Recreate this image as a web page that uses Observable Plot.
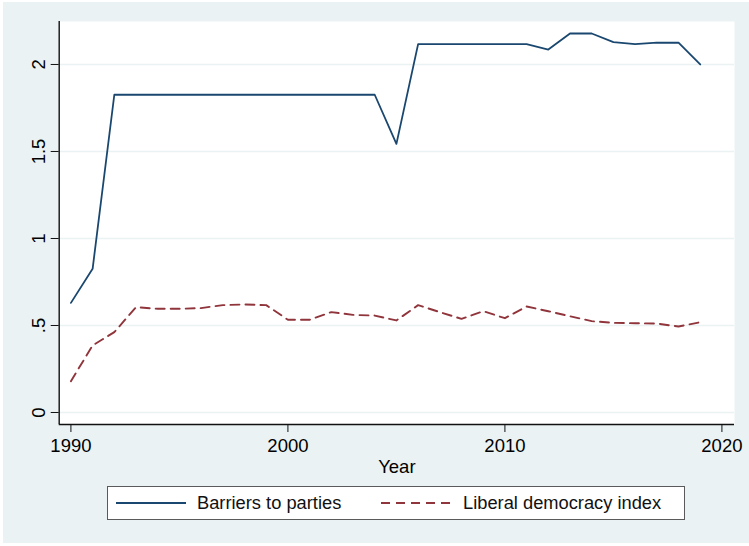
<!DOCTYPE html>
<html>
<head>
<meta charset="utf-8">
<script src="https://cdn.jsdelivr.net/npm/d3@7"></script>
<script src="https://cdn.jsdelivr.net/npm/@observablehq/plot@0.6"></script>
<style>
  html, body { margin: 0; padding: 0; background: #ffffff; }
  body { width: 749px; height: 546px; position: relative; overflow: hidden; font-family: "Liberation Sans", Arial, Helvetica, sans-serif; }
  #bg { position: absolute; left: 3px; top: 2px; width: 746px; height: 541px; background: #eaf2f3; }
  #fig { position: absolute; left: 0; top: 0; width: 749px; }
  #fig svg { display: block; background: transparent; }
  #legend { position: absolute; left: 107px; top: 486px; width: 578px; height: 34px; box-sizing: border-box;
            border: 1px solid #5a5a5a; background: #ffffff; }
  #legend .item { position: absolute; top: 0; height: 32px; line-height: 32px; font-size: 18.3px; color: #111; white-space: nowrap; }
  #legend svg { position: absolute; top: 0; }
</style>
</head>
<body>
<div id="bg"></div>
<div id="fig"></div>
<script>
// ---- Data ----
const years = [1990,1991,1992,1993,1994,1995,1996,1997,1998,1999,2000,2001,2002,2003,2004,
               2005,2006,2007,2008,2009,2010,2011,2012,2013,2014,2015,2016,2017,2018,2019];
const barriers = [0.63,0.826,1.826,1.826,1.826,1.826,1.826,1.826,1.826,1.826,1.826,1.826,1.826,1.826,1.826,
                  1.544,2.117,2.117,2.117,2.117,2.117,2.117,2.086,2.178,2.178,2.128,2.117,2.126,2.125,2.0];
const liberal = [0.18,0.385,0.462,0.605,0.596,0.596,0.6,0.617,0.621,0.617,0.533,0.533,0.577,0.561,0.557,
                 0.529,0.617,0.577,0.538,0.582,0.542,0.609,0.582,0.553,0.525,0.515,0.513,0.511,0.494,0.519];
const seriesNames = ["Barriers to parties", "Liberal democracy index"];
const xTicks = [1990, 2000, 2010, 2020];
const yTicks = [0, 0.5, 1, 1.5, 2];
const yTickLabels = ["0", ".5", "1", "1.5", "2"];

const navy = "#1a476f";
const maroon = "#90353b";

const rowsB = years.map((y, i) => ({year: y, value: barriers[i]}));
const rowsL = years.map((y, i) => ({year: y, value: liberal[i]}));

const xDomain = [1989.46, 2020.58];
const yDomain = [-0.069, 2.247];

const chart = Plot.plot({
  width: 749,
  height: 480,
  marginLeft: 58.7,
  marginRight: 15,
  marginTop: 21,
  marginBottom: 56,
  style: {fontFamily: '"Liberation Sans", Arial, Helvetica, sans-serif', fontSize: "18.5px", color: "#000", background: "transparent"},
  x: {domain: xDomain},
  y: {domain: yDomain},
  marks: [
    Plot.frame({fill: "#ffffff", stroke: null}),
    Plot.gridY(yTicks, {stroke: "#eaf2f3", strokeOpacity: 1, strokeWidth: 1.3}),
    Plot.lineY(rowsL, {x: "year", y: "value", stroke: maroon, strokeWidth: 1.9, strokeDasharray: "9,6"}),
    Plot.lineY(rowsB, {x: "year", y: "value", stroke: navy, strokeWidth: 1.8}),
    Plot.ruleX([xDomain[0]], {stroke: "#111", strokeWidth: 1.4}),
    Plot.ruleY([yDomain[0]], {stroke: "#111", strokeWidth: 1.4}),
    Plot.axisY({
      ticks: yTicks,
      tickFormat: d => yTickLabels[yTicks.indexOf(d)],
      tickSize: 8,
      tickPadding: 6,
      tickRotate: -90,
      fontSize: 18.5,
      stroke: "#111",
      label: null
    }),
    Plot.axisX({
      ticks: xTicks,
      tickFormat: d => String(d),
      tickSize: 8,
      tickPadding: 6,
      fontSize: 18.5,
      stroke: "#111",
      label: "Year",
      labelAnchor: "center",
      labelArrow: "none",
      labelOffset: 48
    })
  ]
});
document.getElementById("fig").appendChild(chart);

// ---- Legend ----
const legend = document.createElement("div");
legend.id = "legend";
legend.innerHTML = `
  <svg width="80" height="32" style="left:7px"><line x1="1" x2="71" y1="16" y2="16" stroke="${navy}" stroke-width="1.8"/></svg>
  <div class="item" style="left:89px">${seriesNames[0]}</div>
  <svg width="80" height="32" style="left:272px"><line x1="1" x2="72" y1="16" y2="16" stroke="${maroon}" stroke-width="1.9" stroke-dasharray="9,6"/></svg>
  <div class="item" style="left:355px">${seriesNames[1]}</div>`;
document.body.appendChild(legend);
</script>
</body>
</html>
